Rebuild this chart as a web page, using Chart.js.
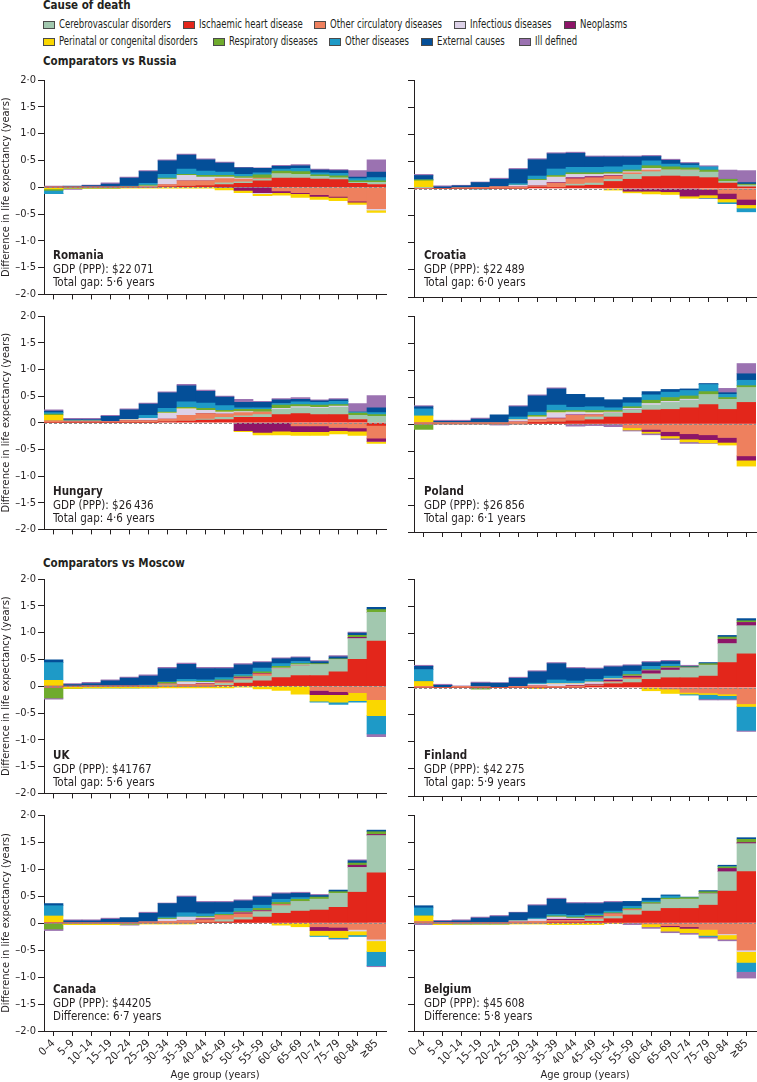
<!DOCTYPE html>
<html>
<head>
<meta charset="utf-8">
<script src="https://cdn.jsdelivr.net/npm/chart.js@4.4.1/dist/chart.umd.min.js"></script>
<style>
  body { margin: 0; width: 757px; height: 1082px; position: relative; background: #fff; overflow: hidden;
         font-family: "Liberation Sans Narrow", "DejaVu Sans Condensed", "Liberation Sans", sans-serif; color: #231f20; }
  .t { position: absolute; font-size: 11.5px; line-height: 12px; white-space: nowrap; }
  .b { font-weight: bold; }
  .sw { position: absolute; width: 10px; height: 6px; border: 1px solid #4a4a4a; }
  canvas { position: absolute; }
</style>
</head>
<body>
<div class="t b" style="left:43px;top:-1px">Cause of death</div>
<div class="t b" style="left:43px;top:55px">Comparators vs Russia</div>
<div class="t b" style="left:43px;top:557px">Comparators vs Moscow</div>
<div id="legend"></div>
<div id="charts"></div>
<script>
const ages = ['0–4', '5–9', '10–14', '15–19', '20–24', '25–29', '30–34', '35–39', '40–44', '45–49',
              '50–54', '55–59', '60–64', '65–69', '70–74', '75–79', '80–84', '≥85'];

// stacking order, from zero outwards
const causes = ['Ischaemic heart disease', 'Cerebrovascular disorders', 'Other circulatory diseases', 'Neoplasms',
                'Infectious diseases', 'Perinatal or congenital disorders', 'Respiratory diseases', 'Other diseases',
                'External causes', 'Ill defined'];
const colours = ['#e3261b', '#a2c8af', '#ee805e', '#8d1568', '#dcd1e7', '#fad700', '#6fab2d', '#1e9ac7', '#044f98', '#9b72b1'];

// rows follow the order of `causes`
const romania = [
  [0, 0, 0, 0, 0, 0, 0.01, 0.02, 0.03, 0.05, 0.07, 0.12, 0.17, 0.17, 0.15, 0.14, 0.07, 0.05],
  [0, 0, 0, 0, 0, 0, 0, 0, 0, 0.03, 0.03, 0.03, 0.07, 0.07, 0.05, 0.03, 0.02, 0.04],
  [0, 0, 0, 0, 0, 0, 0.04, 0.1, 0.09, 0.08, 0.05, 0.02, -0.07, -0.1, -0.14, -0.17, -0.26, -0.4],
  [0, 0, 0, 0, 0, 0, 0, 0, 0, -0.01, -0.06, -0.1, -0.03, -0.02, -0.03, -0.02, -0.02, 0],
  [0, 0, 0, 0, 0, 0.02, 0.1, 0.1, 0.07, 0.03, 0.02, -0.02, 0.01, 0, 0, 0, 0, -0.03],
  [-0.03, -0.02, -0.02, -0.02, -0.02, -0.02, -0.02, -0.02, -0.02, -0.04, -0.04, -0.04, -0.05, -0.07, -0.06, -0.06, -0.04, -0.04],
  [-0.03, 0, 0, 0, 0.01, 0.02, 0.02, 0.02, 0.03, 0.03, 0.03, 0.06, 0.05, 0.05, 0.03, 0.04, 0.03, 0.03],
  [-0.06, 0, 0, 0, 0.01, 0.03, 0.07, 0.1, 0.08, 0.06, 0.04, 0.04, 0.04, 0.06, 0.04, 0.05, 0.04, 0.06],
  [0, 0.02, 0.03, 0.06, 0.15, 0.22, 0.25, 0.26, 0.21, 0.17, 0.12, 0.08, 0.05, 0.05, 0.05, 0.05, 0.03, 0.1],
  [0.02, -0.02, 0.01, 0.02, 0.02, 0.02, 0.02, 0.02, 0.02, 0.02, 0.01, 0.01, 0.02, 0.02, 0.02, 0.02, 0.12, 0.23]
];
const croatia = [
  [0, 0, 0, 0, 0, 0, 0.03, 0.02, 0.05, 0.06, 0.13, 0.17, 0.22, 0.23, 0.22, 0.2, 0.1, 0.03],
  [0.02, 0, 0, 0, 0, 0, 0, 0, 0.03, 0.04, 0.04, 0.09, 0.09, 0.11, 0.11, 0.1, 0.03, 0.03],
  [0, 0, 0.01, 0.02, 0.03, 0.03, 0.02, 0.08, 0.1, 0.1, 0.06, 0.03, 0.03, 0, 0, -0.02, -0.09, -0.2],
  [0, 0, 0, 0, 0, 0, 0, 0.01, 0.02, 0.02, 0.01, -0.05, -0.05, -0.06, -0.14, -0.1, -0.1, -0.1],
  [0, 0, 0, 0, 0, 0.03, 0.1, 0.1, 0.06, 0.04, 0.03, 0.02, 0.03, 0, 0.01, 0, 0, 0],
  [0.12, 0, 0, 0, 0, 0, 0, 0, 0, 0, -0.03, -0.03, -0.05, -0.05, -0.04, -0.05, -0.06, -0.06],
  [0.02, 0, 0, 0, 0, 0, 0.02, 0.03, 0.03, 0.03, 0.03, 0.03, 0.05, 0.06, 0.04, 0.04, 0.04, 0.02],
  [0, 0, 0, -0.01, 0, 0.03, 0.06, 0.12, 0.1, 0.1, 0.1, 0.09, 0.09, 0.05, 0.05, 0.06, -0.03, -0.07],
  [0.08, 0.03, 0.04, 0.09, 0.14, 0.26, 0.3, 0.28, 0.26, 0.19, 0.18, 0.15, 0.08, 0.07, 0.03, -0.01, 0, 0.03],
  [0.02, 0.02, 0.01, 0.01, 0.02, 0.02, 0.02, 0.02, 0.02, 0.02, 0.02, 0.02, 0.02, 0.02, 0.02, 0.02, 0.17, 0.22]
];
const hungary = [
  [0, 0, 0, 0, 0, 0, 0.02, 0.03, 0.05, 0.06, 0.1, 0.1, 0.15, 0.17, 0.15, 0.15, 0.06, -0.05],
  [0, 0, 0, 0, 0, 0, 0, 0, 0.02, 0.04, 0.03, 0.05, 0.1, 0.11, 0.12, 0.14, 0.08, 0.12],
  [0.03, 0.02, 0.02, 0.02, 0.04, 0.04, 0.05, 0.11, 0.1, 0.06, 0.06, 0.05, 0, -0.06, -0.06, -0.09, -0.1, -0.24],
  [0, 0, 0, 0, 0, 0, 0, 0, 0, 0, -0.15, -0.18, -0.16, -0.11, -0.11, -0.06, -0.06, -0.06],
  [0, 0.01, 0.01, 0, 0.02, 0.04, 0.11, 0.12, 0.06, 0.04, 0.02, 0, 0.02, 0.02, 0.02, 0.02, 0, 0],
  [0.11, 0, 0, 0, 0, 0, 0, 0, 0, 0, -0.02, -0.05, -0.07, -0.07, -0.07, -0.06, -0.08, -0.04],
  [0.02, 0, 0, 0, 0, 0, 0.02, 0.03, 0.04, 0.03, 0.04, 0.05, 0.06, 0.04, 0.04, 0.03, 0.04, 0.03],
  [0.03, 0, 0, 0, 0, 0.06, 0.07, 0.1, 0.1, 0.09, 0.03, 0.03, 0.03, 0.05, 0.05, 0.06, 0.02, 0.04],
  [0.03, 0.03, 0.03, 0.1, 0.18, 0.21, 0.29, 0.3, 0.22, 0.16, 0.1, 0.1, 0.07, 0.05, 0.03, 0.03, 0, 0.09],
  [0.02, 0.02, 0.02, 0.02, 0.02, 0.02, 0.02, 0.03, 0.02, 0.02, 0.06, 0.02, 0.02, 0.03, 0.02, 0.02, 0.16, 0.23]
];
const poland = [
  [0, 0, 0, 0, 0, 0, 0.03, 0.04, 0.06, 0.08, 0.13, 0.2, 0.26, 0.27, 0.3, 0.36, 0.27, 0.4],
  [0, 0, 0, 0, 0, 0, 0, 0, 0, 0.05, 0.07, 0.06, 0.09, 0.13, 0.14, 0.18, 0.18, 0.27],
  [0.02, 0.02, 0.02, 0.02, 0.02, 0.04, 0.05, 0.06, 0.1, 0.04, 0, -0.07, -0.1, -0.14, -0.18, -0.2, -0.25, -0.59],
  [0, 0, 0, 0, 0, 0, 0, 0.01, 0.01, 0, 0, 0, -0.04, -0.08, -0.1, -0.09, -0.09, -0.08],
  [0, 0, 0, 0, 0, 0.04, 0.05, 0.1, 0.05, 0.04, 0.02, 0.03, 0.03, 0.02, 0.02, 0, 0, 0],
  [0.13, 0, 0, 0, 0, 0, 0, 0, 0, 0, 0, -0.04, -0.03, -0.04, -0.05, -0.06, -0.05, -0.11],
  [-0.1, 0, 0, 0, 0, 0, 0.03, 0.04, 0.03, 0.04, 0.03, 0.03, 0.06, 0.07, 0.06, 0.06, 0.04, 0.04],
  [0.13, 0, 0, 0, 0, 0.05, 0.06, 0.1, 0.06, 0.07, 0.05, 0.07, 0.1, 0.1, 0.1, 0.13, 0.06, 0.1],
  [0.04, 0.03, 0.03, 0.07, 0.15, 0.19, 0.3, 0.3, 0.24, 0.17, 0.15, 0.1, 0.06, 0.05, 0.03, 0.02, 0.03, 0.12],
  [0.02, 0.02, 0.02, 0.02, -0.02, 0.02, 0.02, 0.02, -0.04, -0.03, -0.05, -0.02, -0.03, -0.03, -0.03, -0.01, 0.08, 0.19]
];
const uk = [
  [0, 0, 0, 0, 0, 0, 0, 0, 0, 0.01, 0.06, 0.1, 0.16, 0.2, 0.2, 0.27, 0.5, 0.84],
  [0, 0, 0, 0, 0, 0, 0.02, 0, 0, 0.04, 0.06, 0.09, 0.16, 0.18, 0.2, 0.22, 0.39, 0.54],
  [-0.02, -0.01, 0, 0, 0, 0, 0.02, 0.03, 0.04, 0.03, 0.03, 0.04, 0, 0, -0.08, -0.1, -0.12, -0.25],
  [0, 0, 0, 0, 0, 0, 0, 0, 0.01, 0.02, 0.02, 0.01, 0, 0, -0.08, -0.06, 0.02, 0],
  [0, 0, 0, 0, 0, 0, 0, 0.05, 0.02, 0, 0, 0, 0.02, 0.02, 0, 0, 0, 0],
  [0.11, -0.03, -0.03, -0.03, -0.03, -0.03, -0.03, -0.03, -0.03, -0.03, -0.02, -0.05, -0.08, -0.15, -0.12, -0.14, -0.15, -0.3],
  [-0.2, 0, 0, 0, 0, 0, 0.03, 0.01, 0.02, 0.02, 0.02, 0.03, 0.03, 0.02, 0.02, 0.02, 0.04, 0.05],
  [0.33, 0, 0, 0, 0, 0.02, 0.01, 0.04, 0.03, 0.04, 0.03, 0.07, 0.05, 0.04, -0.02, -0.04, -0.03, -0.34],
  [0.05, 0.03, 0.05, 0.1, 0.15, 0.17, 0.25, 0.28, 0.21, 0.17, 0.18, 0.1, 0.09, 0.07, 0.04, 0.04, 0.04, 0.04],
  [-0.02, 0.02, 0.02, 0.02, 0.02, 0.02, 0.02, 0.02, 0.02, 0.02, 0.02, 0.02, 0.02, 0.02, 0.02, 0.02, 0.02, -0.05]
];
const finland = [
  [0, 0, 0, 0, 0, 0, 0, 0, 0, 0.03, 0.07, 0.09, 0.15, 0.18, 0.18, 0.21, 0.46, 0.62],
  [0, 0, 0, 0, 0, 0, 0, 0, 0, 0, 0.02, 0.06, 0.1, 0.14, 0.18, 0.2, 0.35, 0.52],
  [0.02, 0, 0.02, 0.01, 0, 0.02, 0.03, 0.02, 0.03, 0.02, 0.02, 0.03, 0, -0.03, -0.09, -0.1, -0.12, -0.3],
  [0, 0, 0, 0, 0, 0, 0, 0, 0.01, 0.01, 0.03, 0.03, 0.06, 0.04, 0, 0, 0.08, 0.06],
  [0, 0, 0, 0, 0, 0, 0.03, 0.05, 0.03, 0.04, 0.02, 0, 0, 0, 0, 0, 0, 0],
  [0.09, 0, 0, 0, 0, 0, -0.02, 0, 0, 0, 0, 0, -0.06, -0.08, -0.03, -0.03, -0.03, -0.05],
  [0, 0, 0, -0.03, 0, 0, 0, 0, 0, 0, 0, 0.03, 0.02, 0.03, 0.02, 0.03, 0.04, 0.03],
  [0.22, 0, 0, 0, 0, 0, 0.02, 0.07, 0.05, 0.05, 0.05, 0.06, 0.06, 0.04, -0.02, -0.08, -0.06, -0.44],
  [0.06, 0.04, 0, 0.07, 0.08, 0.15, 0.21, 0.3, 0.23, 0.19, 0.17, 0.1, 0.07, 0.05, 0.01, 0.02, 0.03, 0.04],
  [0.02, 0.02, 0.01, 0.02, 0.01, 0.02, 0.02, 0.02, 0.02, 0.02, 0.02, 0.02, 0.02, 0.02, 0.02, -0.02, -0.02, -0.02]
];
const canada = [
  [0, 0, 0, 0, 0, 0, 0, 0, 0.01, 0.02, 0.06, 0.11, 0.18, 0.22, 0.24, 0.29, 0.57, 0.93],
  [0, 0, 0, 0, 0, 0, 0, 0, 0, 0.04, 0.04, 0.1, 0.14, 0.18, 0.2, 0.26, 0.46, 0.69],
  [0.01, 0, 0, 0, 0, 0.02, 0.03, 0.04, 0.05, 0.08, 0.07, 0, 0.02, 0, -0.07, -0.08, -0.12, -0.3],
  [0, 0, 0, 0, 0, 0, 0, 0, 0.02, 0, 0.02, 0.02, 0, 0, -0.07, -0.06, 0.04, 0.02],
  [0, 0, 0, 0, 0, 0, 0.04, 0.07, 0.02, 0, 0, 0, 0, 0, 0, 0, -0.03, -0.03],
  [0.12, -0.03, -0.03, -0.03, -0.02, -0.02, -0.02, -0.02, 0, 0, 0, 0, -0.04, -0.07, -0.09, -0.13, -0.07, -0.2],
  [-0.11, 0, 0, 0, 0, 0, 0.02, 0, 0.02, 0.02, 0.02, 0.04, 0.04, 0.04, 0.04, 0.03, 0.04, 0.05],
  [0.19, 0, 0, 0, 0, 0, 0.02, 0.08, 0.05, 0.04, 0.06, 0.06, 0.06, 0.03, -0.02, -0.02, -0.03, -0.26],
  [0.04, 0.04, 0.04, 0.07, 0.1, 0.16, 0.25, 0.29, 0.21, 0.18, 0.14, 0.15, 0.1, 0.08, 0.03, 0.03, 0.04, 0.03],
  [-0.03, 0.02, 0.02, 0.02, -0.02, 0.02, 0.01, 0.02, 0.02, 0.02, 0.02, 0.02, 0.02, 0.02, 0.02, -0.01, 0.02, -0.02]
];
const belgium = [
  [0, 0, 0, 0, 0, 0, 0, 0.02, 0.02, 0.03, 0.08, 0.15, 0.22, 0.27, 0.27, 0.33, 0.59, 0.95],
  [0, 0, 0, 0, 0, 0, 0, 0, 0, 0.04, 0.04, 0.08, 0.13, 0.16, 0.17, 0.21, 0.36, 0.52],
  [0.02, 0, 0, 0, 0, 0.02, 0.03, 0.03, 0.03, 0.03, 0.05, 0.02, -0.02, -0.05, -0.07, -0.12, -0.2, -0.5],
  [0, 0, 0, 0, 0, 0, 0, 0.02, 0.02, 0.02, 0, 0, 0, -0.02, -0.03, 0, 0.06, 0.02],
  [0, 0, 0, 0, 0, 0.02, 0.04, 0.04, 0.02, 0, 0, 0, 0, 0, 0, 0, -0.02, -0.03],
  [0.11, -0.03, -0.02, -0.02, -0.02, -0.02, -0.02, -0.03, -0.03, -0.03, -0.01, 0, -0.05, -0.08, -0.08, -0.11, -0.08, -0.2],
  [0, 0, 0, 0, 0, 0, 0, 0.02, 0.02, 0.02, 0.02, 0.02, 0.03, 0.03, 0.03, 0.04, 0.03, 0.06],
  [0.15, 0.01, 0, 0, 0, 0, 0.02, 0.03, 0.03, 0.03, 0.03, 0.04, 0.03, 0.04, 0, -0.02, 0.01, -0.17],
  [0.04, 0.02, 0.04, 0.09, 0.12, 0.15, 0.23, 0.28, 0.22, 0.19, 0.16, 0.09, 0.05, 0.02, 0.01, 0.02, 0.02, 0.03],
  [-0.03, 0.02, 0.02, 0.02, 0.02, 0.01, 0.02, 0.02, 0.02, 0.02, 0.02, -0.03, -0.03, -0.03, -0.03, -0.03, -0.03, -0.12]
];

const countries = ['Romania', 'Croatia', 'Hungary', 'Poland', 'UK', 'Finland', 'Canada', 'Belgium'];
const gdp = ['$22\u202f071', '$22\u202f489', '$26\u202f436', '$26\u202f856', '$41767', '$42\u202f275', '$44205', '$45\u202f608'];
const gaps = ['Total gap: 5·6 years', 'Total gap: 6·0 years', 'Total gap: 4·6 years', 'Total gap: 6·1 years',
              'Total gap: 5·6 years', 'Total gap: 5·9 years', 'Difference: 6·7 years', 'Difference: 5·8 years'];
const panelData = [romania, croatia, hungary, poland, uk, finland, canada, belgium];

// legend: [cause index, x of swatch, row]
const legendItems = [[1, 43, 0], [0, 183, 0], [2, 314, 0], [4, 454, 0], [3, 564, 0],
                     [5, 43, 1], [6, 213, 1], [7, 329, 1], [8, 421, 1], [9, 519, 1]];

const ink = '#231f20';
const fontStack = '"Liberation Sans Narrow", "DejaVu Sans Condensed", "Liberation Sans", sans-serif';
Chart.defaults.font.family = fontStack;
Chart.defaults.font.size = 11;
Chart.defaults.color = ink;

// the original face is narrower than anything installed, so the legend text is squeezed to its width
const legend = document.getElementById('legend');
let squeeze = null;
legendItems.forEach(([ci, x, row]) => {
  const y = row ? 38 : 21;
  const sw = document.createElement('div');
  sw.className = 'sw';
  sw.style.left = x + 'px';
  sw.style.top = y + 'px';
  sw.style.background = colours[ci];
  legend.appendChild(sw);
  const tx = document.createElement('div');
  tx.className = 't';
  tx.style.left = (x + 16) + 'px';
  tx.style.top = (y - 3) + 'px';
  tx.style.transformOrigin = 'left center';
  tx.textContent = causes[ci];
  legend.appendChild(tx);
  if (squeeze === null) squeeze = Math.min(1, 112 / tx.getBoundingClientRect().width);
  tx.style.transform = 'scaleX(' + squeeze + ')';
});

const zeroLine = {
  id: 'zeroLine',
  afterDatasetsDraw(chart) {
    const { ctx, chartArea: a, scales: { y } } = chart;
    const py = Math.round(y.getPixelForValue(0)) + 0.5;
    ctx.save();
    ctx.strokeStyle = '#8c8c8c';
    ctx.lineWidth = 1;
    ctx.setLineDash([3, 2]);
    ctx.beginPath();
    ctx.moveTo(a.left, py);
    ctx.lineTo(a.right, py);
    ctx.stroke();
    ctx.restore();
  }
};

const fmt = v => v === 0 ? '0' : (v < 0 ? '–' : '') + Math.abs(v).toFixed(1).replace('.', '·');

// rows: canvas top, canvas height, text centre of first label line
const rows = [[70, 233, 255], [306, 232, 491], [569, 233, 755], [805, 277, 989]];
const holder = document.getElementById('charts');

panelData.forEach((data, i) => {
  const left = i % 2 === 0;
  const r = Math.floor(i / 2);
  const bottom = r === 3;
  const [top, h, ty] = rows[r];
  const cv = document.createElement('canvas');
  const w = left ? 390 : 363;
  cv.width = w;
  cv.height = h;
  cv.style.left = (left ? 0 : 394) + 'px';
  cv.style.top = top + 'px';
  cv.style.width = w + 'px';
  cv.style.height = h + 'px';
  holder.appendChild(cv);

  new Chart(cv, {
    type: 'bar',
    data: {
      labels: ages,
      datasets: causes.map((c, k) => ({
        label: c,
        data: data[k],
        backgroundColor: colours[k],
        borderWidth: 0,
        barPercentage: 1,
        categoryPercentage: 1
      }))
    },
    options: {
      responsive: false,
      animation: false,
      layout: { padding: { left: 0, right: left ? 4 : 1, top: 10, bottom: 0 } },
      plugins: { legend: { display: false }, tooltip: { enabled: false } },
      scales: {
        x: {
          stacked: true,
          grid: { display: true, drawOnChartArea: false, tickLength: 5, color: ink, offset: false },
          border: { display: true, color: ink, width: 1 },
          ticks: { display: bottom, autoSkip: false, minRotation: 45, maxRotation: 45, padding: 1, font: { size: 11 } },
          title: { display: bottom, text: 'Age group (years)', font: { size: 11 }, padding: { top: 0, bottom: 0 } },
          afterFit: s => { s.height = bottom ? 51 : 6; }
        },
        y: {
          stacked: true,
          min: -2,
          max: 2,
          grid: { display: true, drawOnChartArea: false, tickLength: 6, color: ink },
          border: { display: true, color: ink, width: 1 },
          ticks: { display: left, stepSize: 0.5, callback: fmt, padding: 2, font: { size: 11 } },
          title: { display: left, text: 'Difference in life expectancy (years)', font: { size: 11 }, padding: { top: 0, bottom: 2 } },
          afterFit: s => { s.width = left ? 44 : 20; }
        }
      }
    },
    plugins: [zeroLine]
  });

  const tx = left ? 53 : 424;
  [[countries[i], true], ['GDP (PPP): ' + gdp[i], false], [gaps[i], false]].forEach(([s, bold], k) => {
    const d = document.createElement('div');
    d.className = bold ? 't b' : 't';
    d.style.left = tx + 'px';
    d.style.top = (ty - 6 + k * 13.5) + 'px';
    d.textContent = s;
    holder.appendChild(d);
  });
});
</script>
</body>
</html>
